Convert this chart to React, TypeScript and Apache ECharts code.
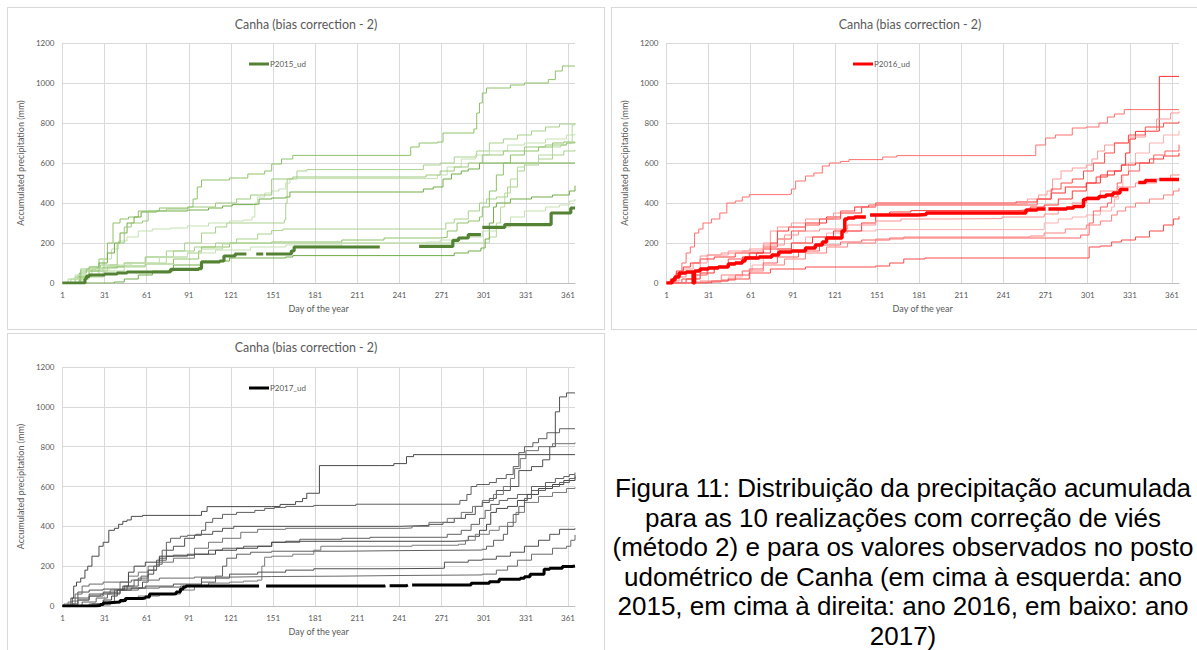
import React, { useEffect, useRef } from "react";
import * as echarts from "echarts";

type Pt = [number, number | null];

// ---------- 2015 (green) ----------
const P2015_UD: Pt[] = [[1,0],[16,0],[17,20],[18,33],[20,40],[31,45],[40,50],[47,55],[76,57],[78,68],[98,72],[100,105],[113,110],[116,135],[124,145],[131,145],[132,null],[139,145],[143,145],[144,null],[146,145],[160,145],[164,160],[166,180],[226,180],[227,null],[255,183],[279,213],[283,225],[290,242],[298,242],[299,null],[300,278],[316,292],[349,350],[361,350],[363,375],[366,378]];
const R2015_1: Pt[] = [[1,0],[8,0],[10,30],[14,60],[20,80],[27,120],[33,200],[37,300],[42,320],[48,330],[55,360],[70,375],[91,380],[94,420],[97,480],[100,515],[120,525],[133,545],[145,560],[150,595],[157,620],[165,638],[247,638],[249,680],[255,700],[268,705],[272,750],[294,770],[296,850],[298,900],[300,950],[303,975],[320,990],[330,1000],[347,1017],[352,1060],[357,1085],[366,1087]];
const R2015_2: Pt[] = [[1,0],[10,0],[13,20],[20,40],[27,60],[33,80],[45,100],[60,130],[75,160],[88,200],[100,250],[110,280],[118,300],[159,315],[160,400],[161,520],[168,560],[175,567],[254,567],[258,590],[270,600],[280,630],[296,660],[305,700],[315,720],[325,740],[335,760],[345,780],[355,795],[366,800]];
const R2015_3: Pt[] = [[1,0],[12,0],[15,30],[22,70],[30,120],[36,170],[41,210],[47,230],[55,260],[65,270],[78,275],[90,285],[105,300],[120,310],[130,315],[136,330],[138,400],[140,430],[145,450],[150,460],[155,470],[160,500],[163,522],[260,522],[268,540],[275,580],[285,620],[295,640],[305,660],[318,690],[330,700],[345,720],[360,740],[366,745]];
const R2015_4: Pt[] = [[1,0],[12,0],[14,30],[20,60],[27,100],[33,150],[38,200],[42,250],[47,300],[52,330],[57,355],[68,360],[90,365],[105,375],[115,385],[122,392],[137,395],[141,420],[150,425],[160,430],[163,455],[254,455],[258,470],[265,480],[272,520],[278,545],[285,560],[290,570],[298,600],[366,600]];
const R2015_5: Pt[] = [[1,0],[5,0],[7,20],[12,40],[20,60],[30,80],[45,100],[60,130],[80,160],[95,180],[110,200],[125,220],[140,245],[150,262],[158,270],[272,270],[274,300],[280,320],[290,360],[298,400],[303,420],[310,430],[318,480],[325,560],[330,590],[340,620],[350,640],[358,660],[366,665]];
const R2015_6: Pt[] = [[1,0],[10,0],[13,50],[18,70],[25,75],[40,85],[60,95],[80,120],[98,160],[100,180],[120,200],[150,205],[200,215],[230,225],[270,228],[275,260],[282,300],[290,310],[298,330],[300,380],[305,460],[310,540],[315,600],[320,640],[330,660],[340,680],[350,700],[358,705],[366,708]];
const R2015_7: Pt[] = [[1,0],[3,0],[5,20],[15,30],[30,60],[45,80],[60,100],[75,130],[90,150],[100,170],[115,195],[120,200],[300,200],[305,230],[310,300],[313,380],[316,450],[320,520],[325,580],[330,600],[340,640],[350,680],[356,690],[360,700],[364,790],[366,795]];
const R2015_8: Pt[] = [[1,0],[30,0],[38,5],[45,20],[55,40],[65,60],[80,90],[100,110],[120,125],[160,130],[165,137],[273,137],[280,150],[290,160],[299,175],[302,220],[305,300],[308,380],[310,400],[320,420],[335,430],[350,440],[362,460],[366,487]];
const R2015_9: Pt[] = [[1,0],[8,0],[10,40],[20,70],[35,90],[50,100],[70,130],[90,150],[110,165],[135,180],[160,190],[200,200],[260,205],[270,215],[285,230],[300,260],[310,280],[320,330],[330,360],[345,380],[355,390],[362,410],[366,420]];
const R2015_10: Pt[] = [[1,0],[12,0],[14,70],[20,80],[28,90],[40,200],[45,280],[50,300],[58,310],[62,360],[75,370],[90,380],[110,400],[125,420],[135,440],[150,520],[165,530],[255,530],[260,540],[270,560],[280,580],[290,600],[300,640],[315,660],[330,680],[345,690],[360,700],[366,705]];
const REAL_2015 = [R2015_1, R2015_2, R2015_3, R2015_4, R2015_5, R2015_6, R2015_7, R2015_8, R2015_9, R2015_10];
const COLORS_2015 = ["#8fc26a", "#a9d18e", "#c5e0b4", "#70ad47", "#a9d18e", "#8fc26a", "#b4d99a", "#70ad47", "#c5e0b4", "#9dc97e"];

// ---------- 2016 (red) ----------
const P2016_UD: Pt[] = [[1,0],[5,15],[7,30],[10,50],[15,55],[19,55],[20,0],[21,60],[25,70],[31,75],[38,80],[45,95],[50,100],[55,110],[57,125],[67,130],[76,140],[81,155],[90,160],[100,175],[107,190],[112,205],[115,225],[123,225],[126,260],[128,320],[130,325],[135,330],[142,330],[143,null],[146,340],[180,342],[186,350],[256,350],[257,365],[265,370],[270,370],[271,null],[273,370],[279,370],[286,375],[291,383],[298,417],[300,422],[309,433],[314,440],[319,450],[324,467],[329,467],[330,null],[337,503],[342,512],[349,512],[350,null],[352,517],[366,517]];
const R2016_1: Pt[] = [[1,0],[5,10],[8,50],[12,100],[15,150],[18,180],[21,250],[24,270],[27,300],[33,320],[39,350],[44,400],[50,410],[55,430],[60,442],[88,445],[90,470],[93,510],[100,535],[106,550],[112,585],[117,600],[125,608],[131,617],[155,630],[165,637],[262,637],[264,690],[271,725],[278,740],[290,775],[300,780],[309,800],[315,830],[320,845],[327,867],[366,867]];
const R2016_2: Pt[] = [[1,0],[10,0],[15,20],[25,50],[35,80],[45,100],[55,130],[65,150],[75,200],[80,260],[88,280],[100,300],[115,330],[125,350],[140,380],[150,400],[240,400],[250,405],[265,420],[275,450],[285,480],[300,500],[310,540],[320,560],[325,590],[328,650],[331,720],[335,758],[350,760],[352,1033],[366,1033]];
const R2016_3: Pt[] = [[1,0],[3,10],[7,40],[12,70],[20,100],[30,140],[45,160],[60,170],[70,200],[75,260],[80,280],[90,300],[100,320],[120,350],[135,380],[150,395],[250,397],[258,420],[266,440],[272,460],[276,520],[282,560],[290,575],[300,590],[304,620],[308,660],[313,690],[320,700],[330,730],[342,760],[350,820],[360,850],[366,858]];
const R2016_4: Pt[] = [[1,0],[8,0],[12,20],[20,40],[30,80],[45,120],[60,150],[70,180],[80,220],[90,260],[100,290],[110,320],[125,360],[135,380],[145,390],[255,390],[265,420],[275,470],[282,500],[290,520],[298,560],[305,600],[313,650],[320,700],[330,740],[342,780],[355,800],[366,808]];
const R2016_5: Pt[] = [[1,0],[12,0],[20,5],[35,10],[45,30],[55,60],[62,90],[70,130],[80,170],[90,200],[100,230],[115,250],[130,260],[150,267],[264,267],[270,300],[280,320],[290,330],[300,340],[310,360],[318,380],[320,420],[323,470],[326,540],[330,600],[335,650],[345,700],[355,740],[366,762]];
const R2016_6: Pt[] = [[1,0],[20,0],[30,5],[40,15],[50,40],[60,70],[70,100],[80,130],[95,160],[110,190],[125,205],[140,215],[160,225],[290,225],[296,240],[302,300],[305,360],[310,380],[315,400],[318,430],[322,500],[325,540],[330,560],[338,600],[348,640],[356,660],[366,692]];
const R2016_7: Pt[] = [[1,0],[4,20],[8,60],[13,80],[18,100],[25,120],[35,130],[50,150],[70,170],[90,200],[105,230],[120,260],[140,300],[150,340],[160,355],[175,362],[250,365],[260,380],[270,390],[280,420],[290,460],[300,500],[307,530],[315,560],[325,590],[335,600],[345,620],[355,635],[366,650]];
const R2016_8: Pt[] = [[1,0],[6,10],[10,30],[15,50],[20,60],[25,135],[30,140],[40,150],[55,160],[70,190],[85,240],[95,260],[110,270],[130,290],[150,310],[168,320],[200,322],[240,330],[270,345],[280,370],[290,400],[300,430],[310,460],[322,480],[335,500],[350,520],[360,540],[366,545]];
const R2016_9: Pt[] = [[1,0],[27,0],[33,10],[45,20],[60,50],[75,70],[100,80],[150,85],[160,100],[170,120],[185,125],[300,125],[302,180],[310,185],[318,205],[325,215],[335,230],[345,260],[355,290],[362,320],[366,333]];
const R2016_10: Pt[] = [[1,0],[15,0],[25,10],[40,40],[55,60],[70,90],[85,120],[100,150],[115,180],[130,200],[150,220],[170,230],[260,235],[270,250],[285,270],[300,290],[310,310],[318,340],[322,360],[328,380],[335,400],[345,420],[355,440],[362,460],[366,475]];
const REAL_2016 = [R2016_1, R2016_2, R2016_3, R2016_4, R2016_5, R2016_6, R2016_7, R2016_8, R2016_9, R2016_10];
const COLORS_2016 = ["#ff7070", "#ff3030", "#ff9a9a", "#ff5050", "#ffb0b0", "#ff6060", "#ff3a3a", "#ff9090", "#ff4848", "#ff8080"];

// ---------- 2017 (black / grey) ----------
const P2017_UD: Pt[] = [[1,0],[25,2],[28,8],[30,15],[33,18],[37,20],[42,28],[46,38],[58,40],[60,45],[63,60],[80,62],[82,70],[85,85],[87,95],[89,100],[140,100],[141,null],[146,100],[230,102],[231,null],[234,102],[246,105],[247,null],[250,105],[289,105],[292,114],[305,122],[312,134],[327,139],[330,147],[334,159],[344,184],[348,189],[357,198],[364,201],[366,201]];
const R2017_1: Pt[] = [[1,0],[7,40],[9,100],[11,120],[14,140],[17,180],[19,200],[22,250],[27,300],[30,320],[34,380],[38,390],[41,410],[44,425],[47,432],[50,450],[58,455],[97,455],[100,475],[104,499],[150,500],[156,510],[167,524],[172,540],[175,566],[183,566],[184,705],[227,705],[237,715],[246,750],[251,760],[366,760]];
const R2017_2: Pt[] = [[1,0],[10,0],[15,20],[25,40],[33,60],[38,80],[45,100],[52,130],[57,150],[62,180],[68,210],[72,280],[75,320],[78,340],[85,350],[90,355],[96,360],[100,380],[103,420],[108,440],[115,460],[125,470],[138,480],[145,490],[152,495],[160,500],[180,505],[210,511],[282,511],[284,530],[289,560],[292,600],[296,610],[305,620],[310,640],[317,660],[322,700],[326,770],[330,800],[336,820],[340,840],[346,870],[355,890],[366,891]];
const R2017_3: Pt[] = [[1,0],[5,0],[8,10],[12,40],[20,60],[30,65],[42,80],[50,90],[58,120],[62,160],[66,200],[70,240],[75,280],[80,300],[88,340],[95,355],[100,360],[108,375],[115,390],[123,400],[241,402],[250,405],[262,410],[272,420],[280,440],[288,460],[295,500],[300,520],[305,540],[310,580],[320,600],[326,680],[335,700],[343,734],[348,800],[352,975],[355,1050],[360,1070],[366,1073]];
const R2017_4: Pt[] = [[1,0],[2,10],[5,20],[8,25],[12,30],[20,50],[28,60],[35,80],[42,120],[48,150],[55,170],[62,200],[70,220],[80,240],[95,290],[105,320],[115,340],[128,370],[140,385],[160,390],[245,392],[250,400],[262,420],[275,440],[285,470],[293,500],[300,530],[308,560],[315,600],[320,640],[323,690],[327,740],[331,780],[340,800],[350,815],[366,821]];
const R2017_5: Pt[] = [[1,0],[12,0],[20,10],[30,20],[38,60],[42,80],[47,100],[55,140],[62,180],[68,230],[75,250],[90,260],[105,280],[115,290],[130,300],[150,320],[170,335],[200,340],[220,345],[271,345],[275,360],[285,380],[292,410],[298,440],[302,480],[306,510],[312,530],[318,540],[325,560],[335,600],[345,620],[352,640],[358,650],[362,660],[366,670]];
const R2017_6: Pt[] = [[1,0],[15,0],[22,10],[30,30],[36,50],[40,80],[44,100],[48,170],[52,200],[60,220],[70,250],[80,255],[95,260],[110,280],[125,290],[140,300],[150,320],[160,325],[280,328],[290,350],[298,380],[303,410],[306,470],[310,490],[318,500],[325,530],[332,560],[340,590],[350,610],[358,630],[366,658]];
const R2017_7: Pt[] = [[1,0],[18,0],[25,5],[35,20],[45,40],[55,50],[70,60],[85,80],[95,100],[105,115],[120,120],[130,125],[140,130],[143,200],[145,245],[150,250],[165,260],[180,280],[185,300],[250,305],[283,310],[288,330],[295,360],[305,380],[312,400],[318,420],[324,470],[330,520],[340,550],[350,570],[360,590],[366,596]];
const R2017_8: Pt[] = [[1,0],[8,0],[12,30],[20,50],[30,70],[40,80],[55,90],[70,95],[85,100],[100,120],[110,150],[115,200],[118,240],[125,260],[135,270],[150,275],[200,278],[241,281],[300,285],[303,300],[308,330],[315,360],[318,400],[322,460],[326,500],[330,540],[335,580],[345,600],[355,620],[362,640],[366,650]];
const R2017_9: Pt[] = [[1,0],[5,0],[8,40],[12,70],[20,80],[30,85],[45,90],[60,100],[80,110],[100,140],[120,160],[140,170],[160,180],[180,187],[230,189],[271,190],[273,220],[290,230],[300,235],[310,250],[320,270],[330,300],[340,330],[348,360],[355,385],[366,390]];
const R2017_10: Pt[] = [[1,0],[5,10],[10,60],[15,100],[20,110],[30,120],[50,130],[70,140],[95,145],[120,148],[150,150],[200,153],[240,156],[300,160],[310,180],[318,200],[325,230],[335,260],[350,290],[360,300],[363,330],[366,357]];
const REAL_2017 = [R2017_1, R2017_2, R2017_3, R2017_4, R2017_5, R2017_6, R2017_7, R2017_8, R2017_9, R2017_10];
const COLORS_2017 = ["#4a4a4a", "#5f5f5f", "#505050", "#737373", "#5f5f5f", "#454545", "#7a7a7a", "#5f5f5f", "#505050", "#6a6a6a"];

const TITLE = "Canha (bias correction - 2)";
const X_NAME = "Day of the year";
const Y_NAME = "Accumulated precipitation (mm)";
const CAPTION = [
  "Figura 11: Distribuição da precipitação acumulada",
  "para as 10 realizações com correção de viés",
  "(método 2) e para os valores observados no posto",
  "udométrico de Canha (em cima à esquerda: ano",
  "2015, em cima à direita: ano 2016, em baixo: ano",
  "2017)",
];

const FONT = "Lato, 'Liberation Sans', sans-serif";

function toData(pts: Pt[]) {
  // x axis runs on (day - 1) so that ticks fall on 1, 31, 61, ...
  return pts.map(([d, v]) => [d - 1, v === null ? "-" : v]);
}

type ChartProps = {
  left: number;
  top: number;
  gridTop: number;
  gridBottom: number;
  titleTop: number;
  legendTop: number;
  obsName: string;
  obs: Pt[];
  obsColor: string;
  obsWidth: number;
  reals: Pt[][];
  realColors: string[];
};

function Chart(p: ChartProps) {
  const ref = useRef<HTMLDivElement>(null);
  useEffect(() => {
    if (!ref.current) return;
    const chart = echarts.init(ref.current, undefined, { renderer: "svg" });
    const series: any[] = p.reals.map((r, i) => ({
      type: "line",
      name: p.obsName.replace("_ud", "") + "_r" + (i + 1),
      data: toData(r),
      step: "end",
      symbol: "none",
      silent: true,
      lineStyle: { width: 1, color: p.realColors[i] },
      itemStyle: { color: p.realColors[i] },
      z: 2,
    }));
    series.push({
      type: "line",
      name: p.obsName,
      data: toData(p.obs),
      step: "end",
      symbol: "none",
      connectNulls: false,
      lineStyle: { width: p.obsWidth, color: p.obsColor },
      itemStyle: { color: p.obsColor },
      z: 3,
    });
    chart.setOption({
      animation: false,
      textStyle: { fontFamily: FONT },
      title: {
        text: TITLE,
        left: "center",
        top: p.titleTop,
        padding: 0,
        textStyle: { fontFamily: FONT, fontSize: 12.4, fontWeight: "normal", color: "#595959" },
      },
      legend: {
        data: [p.obsName],
        left: 241,
        top: p.legendTop,
        padding: 0,
        icon: "rect",
        itemWidth: 20,
        itemHeight: 3,
        textStyle: { fontFamily: FONT, fontSize: 8, color: "#595959", padding: [0, 0, 0, -4] },
      },
      grid: { left: 54, right: 29, top: p.gridTop, bottom: p.gridBottom },
      xAxis: {
        type: "value",
        min: 0,
        max: 365,
        interval: 30,
        name: X_NAME,
        nameLocation: "middle",
        nameGap: 20,
        nameTextStyle: { fontFamily: FONT, fontSize: 9, color: "#595959" },
        axisLine: { show: true, lineStyle: { color: "#bfbfbf", width: 1 } },
        axisTick: { show: false },
        axisLabel: {
          fontFamily: FONT,
          fontSize: 8,
          color: "#595959",
          margin: 8,
          formatter: (v: number) => (v % 30 === 0 ? String(v + 1) : ""),
        },
        splitLine: { show: true, showMaxLine: false, lineStyle: { color: "#d9d9d9", width: 1 } },
      },
      yAxis: {
        type: "value",
        min: 0,
        max: 1200,
        interval: 200,
        name: Y_NAME,
        nameLocation: "middle",
        nameGap: 27,
        nameTextStyle: { fontFamily: FONT, fontSize: 9, color: "#595959" },
        axisLine: { show: false },
        axisTick: { show: false },
        axisLabel: {
          fontFamily: FONT,
          fontSize: 8,
          color: "#595959",
          margin: 8,
          formatter: (v: number) => String(v),
        },
        splitLine: { show: true, lineStyle: { color: "#d9d9d9", width: 1 } },
      },
      series,
    });
    return () => chart.dispose();
  }, []);
  return (
    <div
      style={{
        position: "absolute",
        left: p.left,
        top: p.top,
        width: 598,
        height: 323,
        border: "1px solid #d9d9d9",
        boxSizing: "border-box",
        background: "#fff",
      }}
    >
      <div ref={ref} style={{ width: 596, height: 321 }} />
    </div>
  );
}

export default function App() {
  return (
    <div
      style={{
        position: "fixed",
        left: 0,
        top: 0,
        width: 1197,
        height: 650,
        overflow: "hidden",
        background: "#fff",
      }}
    >
      <Chart left={7} top={7} gridTop={35} gridBottom={46} titleTop={10} legendTop={52}
        obsName="P2015_ud" obs={P2015_UD} obsColor="#548235" obsWidth={3.2}
        reals={REAL_2015} realColors={COLORS_2015} />
      <Chart left={611} top={7} gridTop={35} gridBottom={46} titleTop={10} legendTop={52}
        obsName="P2016_ud" obs={P2016_UD} obsColor="#ff0000" obsWidth={3.5}
        reals={REAL_2016} realColors={COLORS_2016} />
      <Chart left={7} top={333} gridTop={33} gridBottom={49} titleTop={7} legendTop={50}
        obsName="P2017_ud" obs={P2017_UD} obsColor="#000000" obsWidth={3}
        reals={REAL_2017} realColors={COLORS_2017} />
      <div
        style={{
          position: "absolute",
          left: 594,
          top: 474,
          width: 618,
          textAlign: "center",
          fontFamily: "'Liberation Sans', Arial, sans-serif",
          fontSize: 26,
          lineHeight: "29.6px",
          color: "#000",
          whiteSpace: "nowrap",
        }}
      >
        {CAPTION.map((l, i) => (
          <div key={i}>{l}</div>
        ))}
      </div>
    </div>
  );
}
